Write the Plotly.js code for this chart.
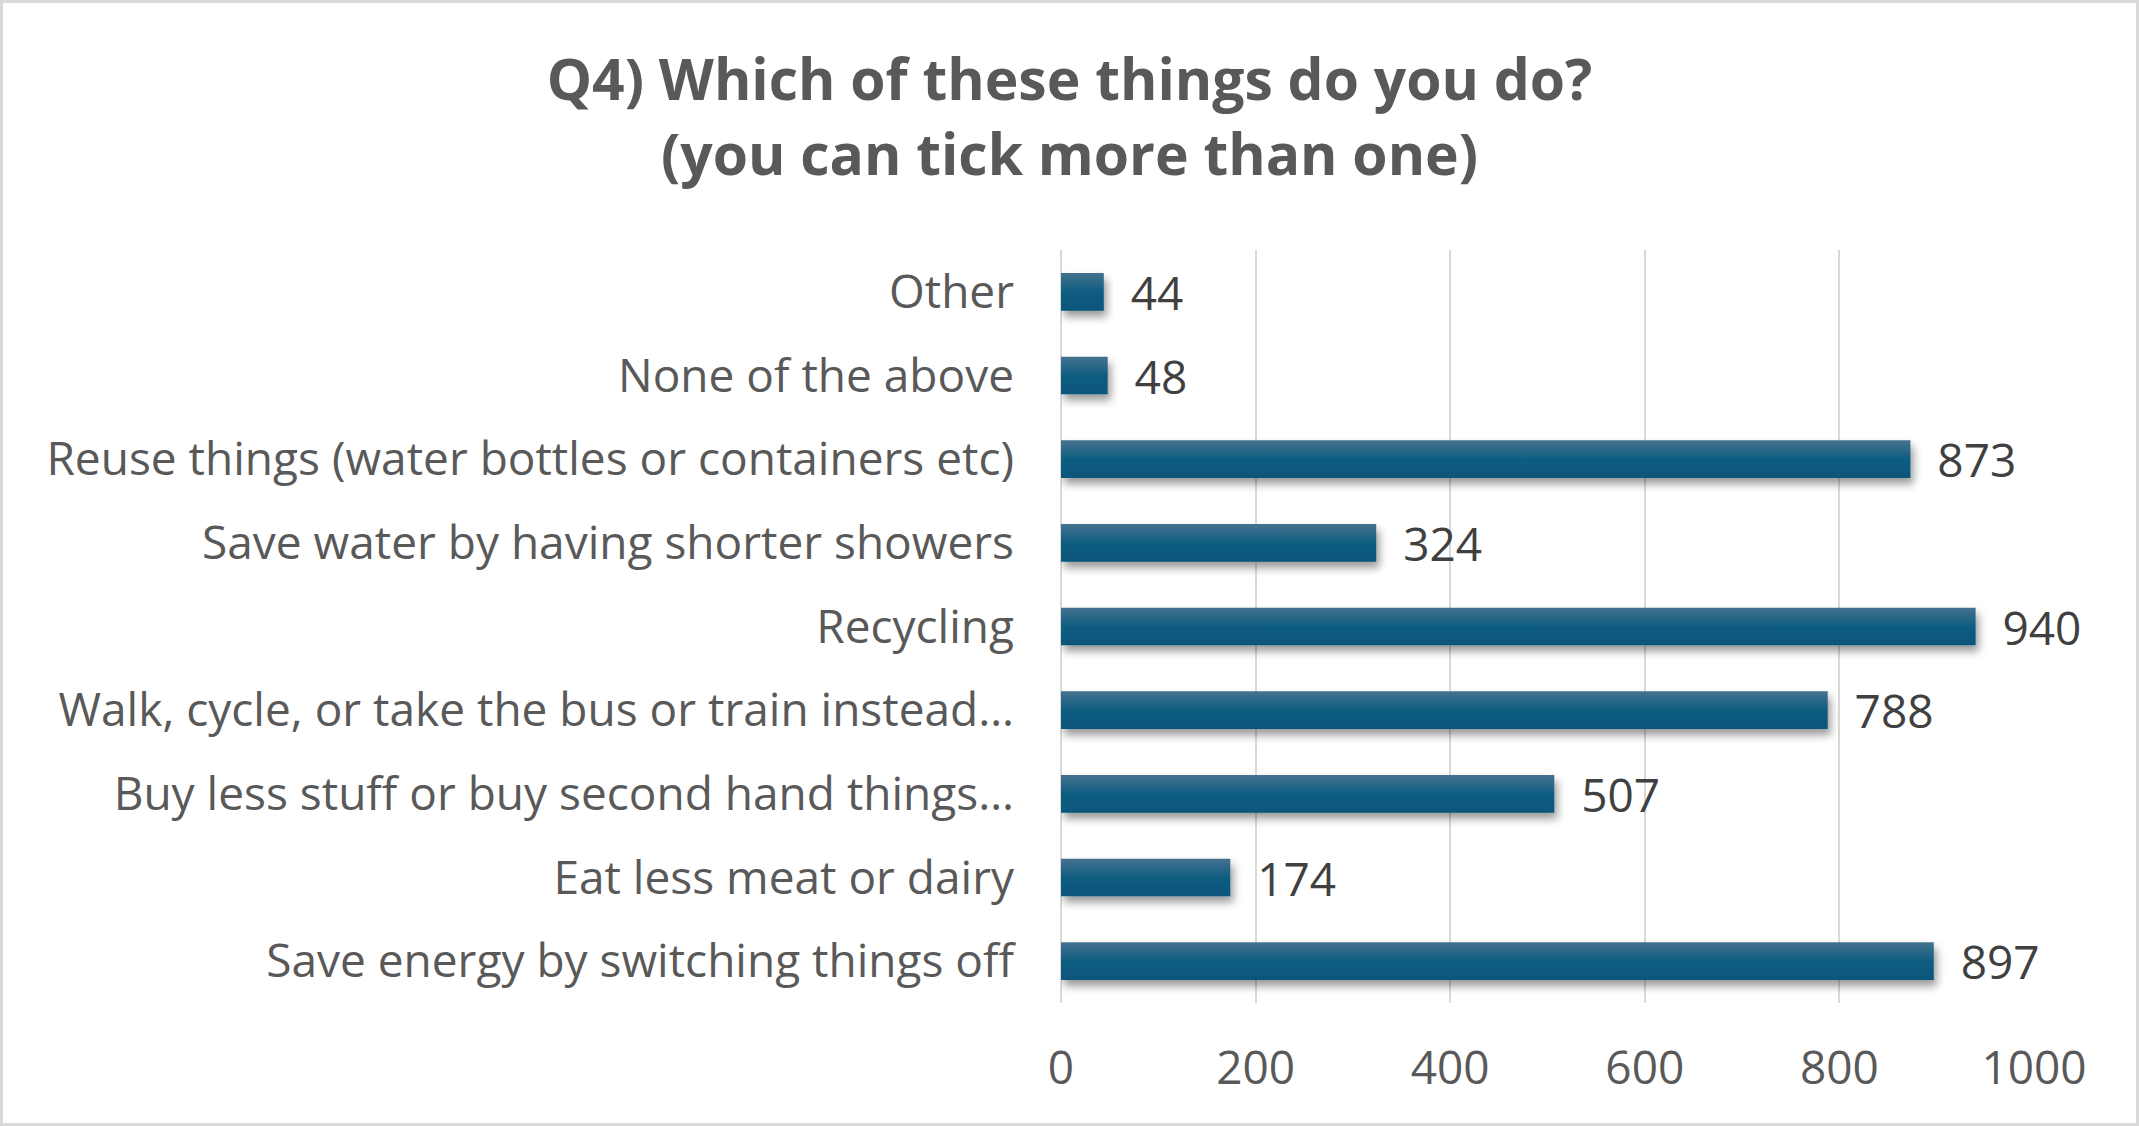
<!DOCTYPE html>
<html>
<head>
<meta charset="utf-8">
<script src="https://cdn.plot.ly/plotly-3.0.1.min.js"></script>
<style>
html,body{margin:0;padding:0;background:#fff;}
#chart{width:2139px;height:1126px;box-sizing:border-box;border:3px solid #d9d9d9;}
</style>
</head>
<body>
<div id="chart"></div>
<script>
// Categories listed bottom to top (Plotly draws the first category at the bottom)
const categories = [
  "Save energy by switching things off",
  "Eat less meat or dairy",
  "Buy less stuff or buy second hand things…",
  "Walk, cycle, or take the bus or train instead…",
  "Recycling",
  "Save water by having shorter showers",
  "Reuse things (water bottles or containers etc)",
  "None of the above",
  "Other"
];
const counts = [897, 174, 507, 788, 940, 324, 873, 48, 44];
const xTicks = [0, 200, 400, 600, 800, 1000];
const titleLines = ["Q4) Which of these things do you do?", "(you can tick more than one)"];

const FONT = "Open Sans, Liberation Sans, sans-serif";

const data = [{
  type: "bar",
  orientation: "h",
  y: categories,
  x: counts,
  marker: {color: "#155e82", line: {width: 0}},
  width: 0.45,
  texttemplate: "\u00a0\u00a0%{x}",
  textposition: "outside",
  constraintext: "none",
  cliponaxis: false,
  textfont: {family: FONT, size: 46, color: "#404040"},
  hoverinfo: "none"
}];

const layout = {
  width: 2133, height: 1120,
  paper_bgcolor: "#ffffff",
  plot_bgcolor: "#ffffff",
  margin: {l: 1058, r: 102, t: 247, b: 120, pad: 0},
  showlegend: false,
  title: {
    text: "<b>" + titleLines.join("<br>") + "</b>",
    font: {family: FONT, size: 57, color: "#595959"},
    x: 0.5, xanchor: "center",
    yref: "container",
    y: 0.913, yanchor: "middle"
  },
  xaxis: {
    range: [0, 1000],
    tickvals: xTicks,
    ticktext: xTicks.map(String),
    showgrid: true, gridcolor: "#d9d9d9", gridwidth: 2,
    zeroline: true, zerolinecolor: "#d9d9d9", zerolinewidth: 2,
    showline: false,
    ticks: "", ticklabelstandoff: 34,
    tickfont: {family: FONT, size: 46, color: "#595959"},
    fixedrange: true
  },
  yaxis: {
    type: "category",
    categoryorder: "array",
    categoryarray: categories,
    showgrid: false, zeroline: false,
    showline: false,
    ticks: "", ticklabelstandoff: 46,
    tickfont: {family: FONT, size: 46, color: "#595959"},
    automargin: false,
    fixedrange: true
  },
  bargap: 0.55
};

Plotly.newPlot("chart", data, layout, {staticPlot: true, displayModeBar: false}).then(gd => {
  const NS = "http://www.w3.org/2000/svg";
  const svg = gd.querySelector(".main-svg");
  let defs = svg.querySelector("defs");
  if (!defs) { defs = document.createElementNS(NS, "defs"); svg.insertBefore(defs, svg.firstChild); }
  const grad = document.createElementNS(NS, "linearGradient");
  grad.setAttribute("id", "barGrad");
  grad.setAttribute("x1", "0"); grad.setAttribute("y1", "0");
  grad.setAttribute("x2", "0"); grad.setAttribute("y2", "1");
  [["0", "#45728f"], ["0.5", "#0f5d81"], ["1", "#06557a"]].forEach(([o, c]) => {
    const s = document.createElementNS(NS, "stop");
    s.setAttribute("offset", o); s.setAttribute("stop-color", c);
    grad.appendChild(s);
  });
  defs.appendChild(grad);
  const filt = document.createElementNS(NS, "filter");
  filt.setAttribute("id", "barShadow");
  filt.setAttribute("x", "-10%"); filt.setAttribute("y", "-30%");
  filt.setAttribute("width", "130%"); filt.setAttribute("height", "180%");
  const ds = document.createElementNS(NS, "feDropShadow");
  ds.setAttribute("dx", "3"); ds.setAttribute("dy", "6");
  ds.setAttribute("stdDeviation", "4");
  ds.setAttribute("flood-color", "#000"); ds.setAttribute("flood-opacity", "0.4");
  filt.appendChild(ds);
  defs.appendChild(filt);
  gd.querySelectorAll(".bars .point path").forEach(p => {
    p.style.fill = "url(#barGrad)";
    p.setAttribute("filter", "url(#barShadow)");
  });
});
</script>
</body>
</html>
